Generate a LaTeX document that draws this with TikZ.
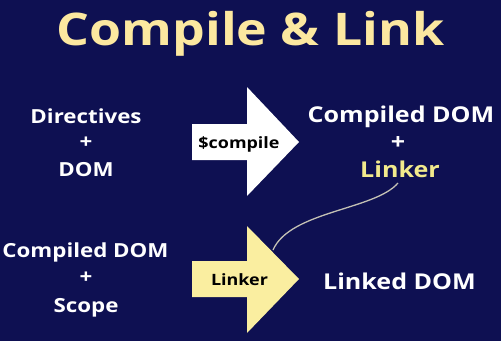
\documentclass[tikz,border=0pt]{standalone}
\usepackage{fontspec}
\setmainfont[FakeStretch=1.15]{Open Sans}
\definecolor{bgnavy}{RGB}{14,16,82}
\definecolor{titleyel}{RGB}{252,232,160}
\definecolor{arrowyel}{RGB}{250,238,160}
\definecolor{linkyel}{RGB}{242,234,140}
\definecolor{curvegrey}{RGB}{195,192,180}
\begin{document}
\begin{tikzpicture}[x=1pt,y=1pt,
  txt/.style={anchor=base,inner sep=0pt,text=white,font=\fontsize{21.8}{24}\selectfont\bfseries},
  ltxt/.style={txt,font=\fontsize{19.4}{24}\selectfont\bfseries},
  albl/.style={anchor=base,inner sep=0pt,text=black,font=\fontsize{15.6}{18}\selectfont\bfseries}]
\fill[bgnavy] (0,0) rectangle (501,341);
\useasboundingbox (0,0) rectangle (501,341);
\node[anchor=base,inner sep=0pt,text=titleyel,font=\fontsize{45}{50}\selectfont\bfseries] (title) at (250.5,295) {Compile \& Link};
% white arrow
\coordinate (w1) at (192,217); \coordinate (w2) at (247,217); \coordinate (w3) at (247,254);
\coordinate (wtip) at (299,199); \coordinate (w5) at (247,145); \coordinate (w6) at (247,181);
\coordinate (w7) at (192,181);
\fill[white] (w1) -- (w2) -- (w3) -- (wtip) -- (w5) -- (w6) -- (w7) -- cycle;
% yellow arrow
\coordinate (y1) at (192,80); \coordinate (y2) at (247,80); \coordinate (y3) at (247,115);
\coordinate (ytip) at (299,62); \coordinate (y5) at (247,8); \coordinate (y6) at (247,44);
\coordinate (y7) at (192,44);
\fill[arrowyel] (y1) -- (y2) -- (y3) -- (ytip) -- (y5) -- (y6) -- (y7) -- cycle;
\node[albl] (compile) at (239,193) {\$compile};
\node[albl] (linkerA) at (239.5,56) {Linker};
% left texts
\node[ltxt] (dir) at (86,218) {Directives};
\node[ltxt,anchor=center] (plus1) at (86,198) {+};
\node[ltxt] (dom) at (86,165) {DOM};
\node[ltxt] (cdom1) at (85.5,84) {Compiled DOM};
\node[ltxt,anchor=center] (plus2) at (86,63) {+};
\node[ltxt] (scope) at (86,29) {Scope};
% right texts
\node[txt] (cdom2) at (401,219) {Compiled DOM};
\node[txt,anchor=center] (plus3) at (398,198) {+};
\node[txt,text=linkyel] (linker) at (400,164) {Linker};
\node[txt] (ldom) at (399.5,52) {Linked DOM};
% curve
\coordinate (cstart) at (398,158);
\coordinate (cend) at (273,91);
\draw[curvegrey,line width=1.3pt] (cstart) .. controls (375,131) and (290,130) .. (cend);
\end{tikzpicture}
\end{document}
